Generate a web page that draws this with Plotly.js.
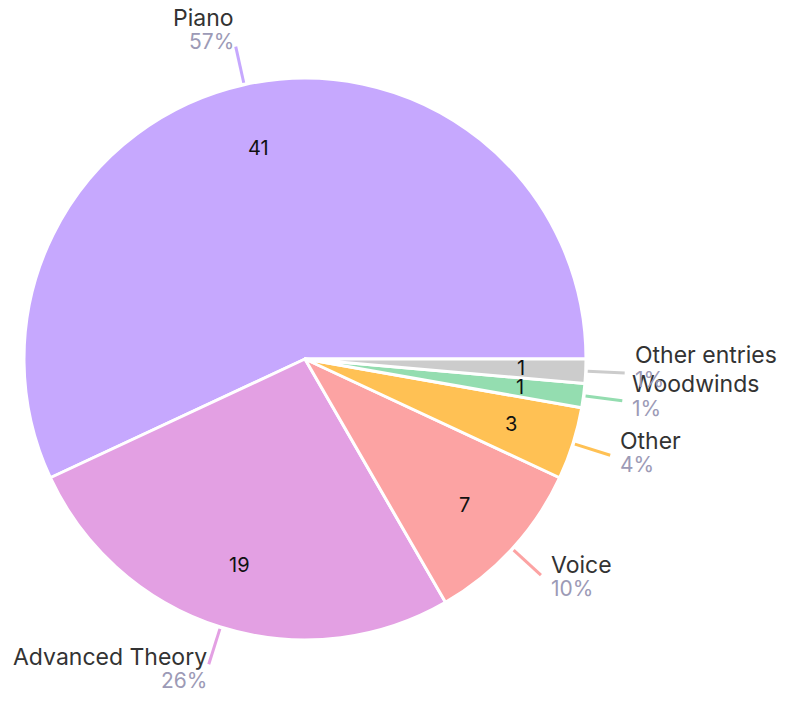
<!DOCTYPE html>
<html>
<head>
<meta charset="utf-8">
<script src="https://cdn.plot.ly/plotly-3.0.1.min.js"></script>
<style>html,body{margin:0;padding:0;background:#fff;}</style>
</head>
<body>
<div id="chart" style="width:787px;height:701px;"></div>
<script>
const categories = ["Piano", "Advanced Theory", "Voice", "Other", "Woodwinds", "Other entries"];
const counts = [41, 19, 7, 3, 1, 1];
const sliceColors = ["#C6A8FE", "#E3A0E3", "#FCA3A3", "#FFC154", "#94DDB0", "#CCCCCC"];

const W = 787, H = 701;
const CX = 305, CY = 359, R = 281;
const FONT = "Inter, 'Liberation Sans', sans-serif";

const total = counts.reduce((a, b) => a + b, 0);
const annotations = [];
const shapes = [];
const px = x => x / W;
const py = y => 1 - y / H;

let start = 0;
counts.forEach((v, i) => {
  const frac = v / total;
  const mid = (start + frac / 2) * 2 * Math.PI; // counterclockwise from 3 o'clock
  start += frac;
  const c = Math.cos(mid), s = Math.sin(mid);
  // value inside
  annotations.push({
    xref: "paper", yref: "paper",
    x: px(CX + 0.77 * R * c), y: py(CY - 0.77 * R * s),
    text: String(v), showarrow: false,
    font: {family: FONT, size: 20, color: "#111"},
    xanchor: "center", yanchor: "middle"
  });
  // leader line
  const r1 = R + 2, r2 = R + 39;
  const x1 = CX + r1 * c, y1 = CY - r1 * s;
  const x2 = CX + r2 * c, y2 = CY - r2 * s;
  shapes.push({
    type: "line", xref: "paper", yref: "paper",
    x0: px(x1), y0: py(y1), x1: px(x2), y1: py(y2),
    line: {color: sliceColors[i], width: 3}
  });
  const right = c >= 0;
  const tx = right ? x2 + 8 : x2;
  const blockC = y2 - 6 - 11 * s;
  const pct = Math.round(frac * 100) + "%";
  annotations.push({
    xref: "paper", yref: "paper",
    x: px(tx), y: py(blockC - 12),
    text: categories[i], showarrow: false,
    font: {family: FONT, size: 23, color: "#333333"},
    xanchor: right ? "left" : "right", yanchor: "middle"
  });
  annotations.push({
    xref: "paper", yref: "paper",
    x: px(tx), y: py(blockC + 12),
    text: pct, showarrow: false,
    font: {family: FONT, size: 21, color: "#9C9AB6"},
    xanchor: right ? "left" : "right", yanchor: "middle"
  });
});

// Plotly keeps the first slice clockwise of `rotation` in counterclockwise mode,
// so start it such that the first slice begins at 3 o'clock going counterclockwise.
const rotation = 90 - 360 * counts[0] / total;

const trace = {
  type: "pie",
  labels: categories,
  values: counts,
  sort: false,
  direction: "counterclockwise",
  rotation: rotation,
  marker: {colors: sliceColors, line: {color: "#ffffff", width: 3}},
  textinfo: "none",
  hoverinfo: "label+value+percent",
  domain: {x: [px(CX - R), px(CX + R)], y: [py(CY + R), py(CY - R)]}
};

Plotly.newPlot("chart", [trace], {
  width: W, height: H,
  margin: {l: 0, r: 0, t: 0, b: 0},
  showlegend: false,
  paper_bgcolor: "#ffffff",
  annotations: annotations,
  shapes: shapes
}, {displayModeBar: false, staticPlot: true});
</script>
</body>
</html>
